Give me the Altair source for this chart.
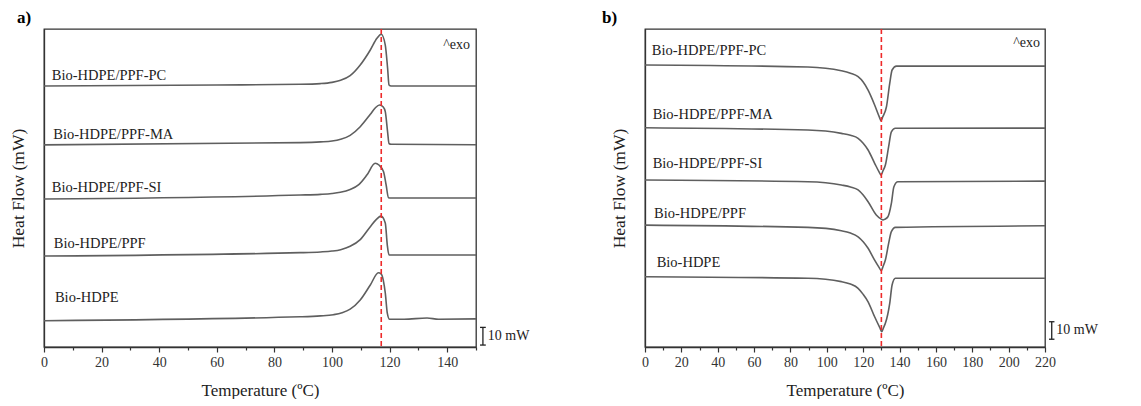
import altair as alt
import pandas as pd

FONT = "Liberation Serif"

series = ["Bio-HDPE/PPF-PC", "Bio-HDPE/PPF-MA", "Bio-HDPE/PPF-SI", "Bio-HDPE/PPF", "Bio-HDPE"]

# ---- Panel a) cooling scans (temperature in ºC, heat flow in mW, offset stacked) ----
a_pc_t = [0, 60, 89, 96, 100, 103, 106.3, 109.8, 113.3, 115.6, 117.1, 118.5, 119.3, 119.8, 120.5, 150]
a_pc_hf = [147.7, 148.3, 148.7, 149.1, 149.8, 151.0, 153.6, 159.6, 168.1, 174.7, 177.0, 170.9, 157.9, 148.3, 147.7, 147.7]

a_ma_t = [0, 89, 96, 100, 103, 106.3, 109.8, 113.3, 115.0, 116.5, 117.8, 118.5, 119.3, 119.8, 120.5, 150]
a_ma_hf = [114.4, 115.7, 116.1, 116.6, 117.6, 119.8, 124.7, 131.7, 135.3, 137.0, 135.8, 133.2, 121.8, 115.2, 114.8, 114.5]

a_si_t = [0, 89, 96, 100, 102.9, 106.3, 109.3, 112.1, 115.0, 116.3, 117.9, 118.8, 119.6, 120.5, 150]
a_si_hf = [83.8, 86.0, 86.4, 86.9, 87.6, 89.2, 91.9, 97.3, 104.0, 103.0, 99.2, 91.7, 84.5, 84.3, 84.3]

a_ppf_t = [0, 89, 96, 100, 103, 106.3, 109.8, 113.3, 115.5, 117.0, 118.5, 119.2, 119.8, 121, 150]
a_ppf_hf = [51.5, 53.4, 53.8, 54.3, 55.1, 57.0, 60.8, 68.1, 72.4, 74.1, 70.2, 57.7, 52.1, 52.1, 52.1]

a_hdpe_t = [0, 89, 96, 100.5, 103.5, 106.3, 109.8, 113.3, 116.1, 117.1, 117.8, 118.5, 119.2, 120.0, 125, 133, 137, 150]
a_hdpe_hf = [14.9, 17.1, 17.6, 18.3, 19.4, 21.4, 26.6, 35.1, 42.0, 41.3, 37.9, 30.6, 19.2, 15.7, 15.7, 16.4, 15.7, 15.9]

a_peak = 117.1

# ---- Panel b) heating scans ----
b_pc_t = [0, 89.6, 108, 113, 117.2, 120, 122.7, 126.3, 128.8, 129.8, 130.8, 132.8, 134.6, 135.9, 138.3, 220]
b_pc_hf = [159.6, 158.5, 156.4, 155.0, 153.0, 150.0, 145.4, 137.0, 130.4, 128.1, 130.4, 136.0, 149.2, 156.8, 159.0, 159.0]

b_ma_t = [0, 89.6, 108, 113, 117.2, 120, 122.7, 126.3, 128.8, 129.8, 130.8, 132.2, 134.0, 135.5, 137.7, 220]
b_ma_hf = [124.1, 122.8, 120.9, 119.8, 118.1, 115.3, 111.5, 104.0, 99.0, 97.3, 99.5, 103.0, 113.4, 121.8, 123.8, 123.9]

b_si_t = [0, 89.6, 108, 113, 117.2, 120, 122.7, 127.2, 129.9, 130.9, 131.9, 133.6, 135.5, 136.9, 139.1, 220]
b_si_hf = [94.5, 93.5, 91.7, 90.6, 88.9, 86.0, 82.2, 74.7, 72.4, 71.9, 72.3, 73.7, 81.3, 90.7, 93.5, 93.9]

b_ppf_t = [0, 89.6, 108, 113, 117.2, 120, 122.7, 126.3, 128.9, 129.9, 130.9, 132.2, 134.0, 135.5, 137.7, 220]
b_ppf_hf = [69.0, 67.7, 65.8, 64.5, 62.4, 59.6, 55.9, 49.2, 44.8, 43.2, 45.5, 49.2, 58.7, 65.3, 67.7, 68.6]

b_hdpe_t = [0, 89.6, 108, 113, 117.2, 120, 122.7, 126.3, 129.2, 130.2, 131.2, 132.2, 134.6, 135.9, 137.7, 220]
b_hdpe_hf = [39.8, 38.9, 37.0, 35.6, 33.2, 29.8, 25.6, 17.1, 10.8, 8.7, 11.0, 13.4, 24.7, 35.1, 38.9, 38.9]

b_peak = 130.0

# label anchors (temperature, heat flow) for the series names
a_label_t = [2.7, 3.2, 2.7, 3.4, 3.8]
a_label_hf = [153.4, 120.0, 90.0, 58.1, 27.6]
b_label_t = [3.7, 4.2, 4.2, 5.0, 6.4]
b_label_hf = [167.5, 131.3, 103.6, 75.3, 47.7]


def long_df(ts, hfs):
    rows = []
    for name, t, hf in zip(series, ts, hfs):
        for tv, hv in zip(t, hf):
            rows.append({"series": name, "T": tv, "HF": hv})
    return pd.DataFrame(rows)


df_a = long_df([a_pc_t, a_ma_t, a_si_t, a_ppf_t, a_hdpe_t],
               [a_pc_hf, a_ma_hf, a_si_hf, a_ppf_hf, a_hdpe_hf])
df_b = long_df([b_pc_t, b_ma_t, b_si_t, b_ppf_t, b_hdpe_t],
               [b_pc_hf, b_ma_hf, b_si_hf, b_ppf_hf, b_hdpe_hf])
lab_a = pd.DataFrame({"series": series, "T": a_label_t, "HF": a_label_hf})
lab_b = pd.DataFrame({"series": series, "T": b_label_t, "HF": b_label_hf})

H = 318


def panel(df, labs, peak, xmax, width, title, title_dx, exo_t, exo_hf, bar_t, bar_lo, bar_hi, cap_half, txt_t):
    xs = alt.Scale(domain=[0, xmax], nice=False, zero=False)
    ys = alt.Scale(domain=[0, 180], nice=False)
    x_axis = alt.Axis(
        title="Temperature (ºC)",
        values=list(range(0, xmax + 1, 10)),
        labelExpr="datum.value % 20 === 0 ? datum.label : ''",
        tickSize={"condition": {"test": "datum.value % 20 === 0", "value": 5}, "value": 3},
        grid=False,
        labelPadding=3,
        titlePadding=13,
        labelFlush=False,
    )
    y_axis = alt.Axis(title="Heat Flow (mW)", labels=False, ticks=False, grid=False, titlePadding=17)

    def X(f):
        return alt.X(f, scale=xs, axis=x_axis)

    def Y(f):
        return alt.Y(f, scale=ys, axis=y_axis)

    lines = alt.Chart(df).mark_line(color="#5f5f5f", strokeWidth=1.6, interpolate="monotone").encode(
        x=X("T:Q"), y=Y("HF:Q"), detail="series:N",
    )
    rule = alt.Chart(pd.DataFrame({"T": [peak]})).mark_rule(
        color="#ee2a2a", strokeDash=[5, 3], strokeWidth=1.6
    ).encode(x=X("T:Q"))
    names = alt.Chart(labs).mark_text(
        align="left", baseline="middle", font=FONT, fontSize=14.5, color="#222"
    ).encode(x=X("T:Q"), y=Y("HF:Q"), text="series:N")
    exo = alt.Chart(pd.DataFrame({"T": [exo_t], "HF": [exo_hf], "s": ["^exo"]})).mark_text(
        align="right", baseline="middle", font=FONT, fontSize=14, color="#222"
    ).encode(x=X("T:Q"), y=Y("HF:Q"), text="s:N")
    bar = alt.Chart(pd.DataFrame({"T": [bar_t], "lo": [bar_lo], "hi": [bar_hi]})).mark_rule(
        color="#222", strokeWidth=1.3
    ).encode(x=X("T:Q"), y=Y("lo:Q"), y2="hi:Q")
    caps = alt.Chart(pd.DataFrame({"T": [bar_t - cap_half] * 2, "b": [bar_t + cap_half] * 2,
                                   "HF": [bar_lo, bar_hi]})).mark_rule(
        color="#222", strokeWidth=1.3
    ).encode(x=X("T:Q"), x2="b:Q", y=Y("HF:Q"))
    bar_txt = alt.Chart(pd.DataFrame({"T": [txt_t], "HF": [(bar_lo + bar_hi) / 2], "s": ["10 mW"]})).mark_text(
        align="left", baseline="middle", font=FONT, fontSize=14, color="#222"
    ).encode(x=X("T:Q"), y=Y("HF:Q"), text="s:N")
    return alt.layer(lines, rule, names, exo, bar, caps, bar_txt).properties(
        width=width, height=H,
        title=alt.TitleParams(title, anchor="start", font=FONT, fontSize=17, fontWeight="bold",
                              color="#000", offset=1, dx=title_dx),
    )


pa = panel(df_a, lab_a, a_peak, 150, 432, "a)", 8, 147.9, 170.9, 152.4, 1.1, 11.1, 1.0, 154.1)
pb = panel(df_b, lab_b, b_peak, 220, 400, "b)", -8, 217.3, 172.0, 223.7, 4.4, 14.3, 1.5, 226.2)

chart = alt.hconcat(pa, pb, spacing=70).properties(
    padding={"left": 0, "top": 0, "right": 0, "bottom": 0}
).configure_view(
    stroke="#333", strokeWidth=1.3
).configure_axis(
    domainColor="#333", domainWidth=1.3, tickColor="#333", tickWidth=1.2,
    labelFont=FONT, labelFontSize=14, labelColor="#333",
    titleFont=FONT, titleFontWeight="normal", titleColor="#222",
).configure_axisX(
    titleFontSize=17
).configure_axisY(
    titleFontSize=17.5
)

chart.save("out.html", embed_options={"renderer": "svg", "actions": False})
